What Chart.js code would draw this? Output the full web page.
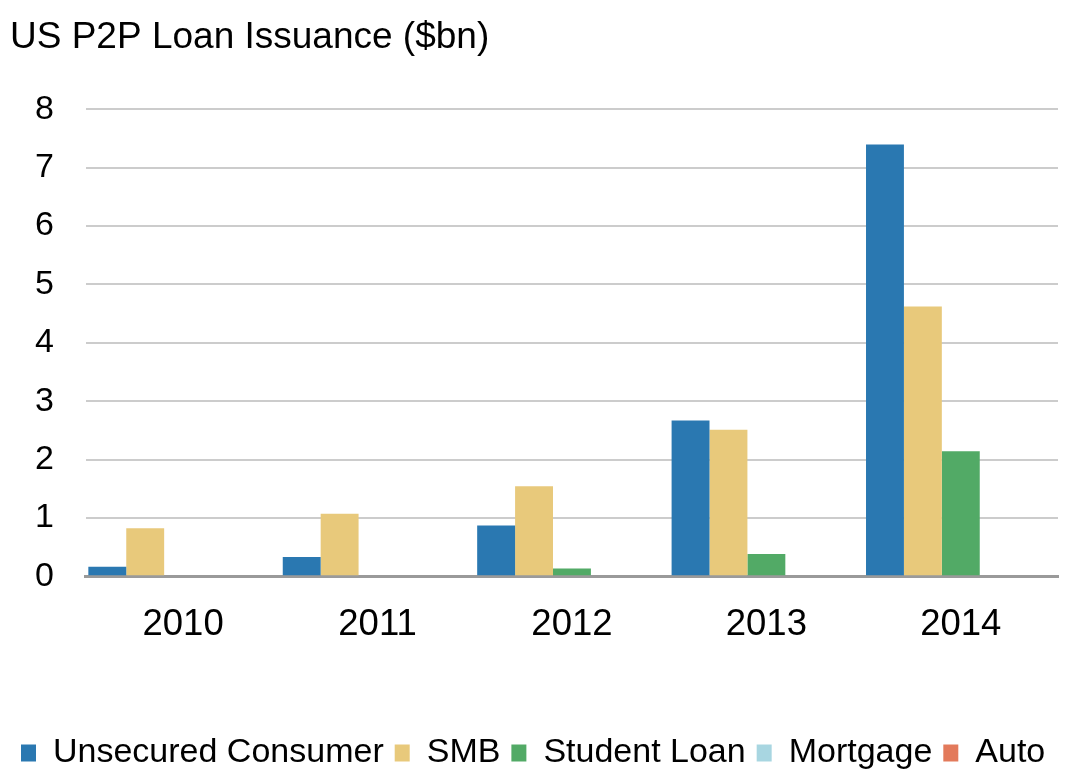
<!DOCTYPE html>
<html>
<head>
<meta charset="utf-8">
<script src="https://cdn.jsdelivr.net/npm/chart.js@4"></script>
<style>
  html, body { margin: 0; padding: 0; background: #fff; }
  #wrap { width: 1069px; height: 771px; position: relative; }
</style>
</head>
<body>
<div id="wrap"><canvas id="chart"></canvas></div>
<script>
const years = ["2010", "2011", "2012", "2013", "2014"];
const unsecuredConsumer = [0.16, 0.33, 0.87, 2.67, 7.40];
const smb = [0.82, 1.07, 1.54, 2.51, 4.62];
const studentLoan = [0, 0, 0.13, 0.38, 2.14];
const mortgage = [0, 0, 0, 0, 0];
const auto = [0, 0, 0, 0, 0];
const yTicks = [0, 1, 2, 3, 4, 5, 6, 7, 8];

const font = "'Liberation Sans', Arial, Helvetica, sans-serif";

function series(label, data, color) {
  return {
    label,
    data,
    backgroundColor: color,
    borderWidth: 0,
    barPercentage: 1,
    categoryPercentage: 0.975,
  };
}

new Chart(document.getElementById("chart"), {
  type: "bar",
  data: {
    labels: years,
    datasets: [
      series("Unsecured Consumer", unsecuredConsumer, "#2a78b1"),
      series("SMB", smb, "#e8c97b"),
      series("Student Loan", studentLoan, "#52aa66"),
      series("Mortgage", mortgage, "#a8d6e1"),
      series("Auto", auto, "#e37a5b"),
    ],
  },
  options: {
    responsive: true,
    maintainAspectRatio: false,
    animation: false,
    // legend sits lower than the default padding allows
    layout: { padding: { left: 10, right: 11, top: 2, bottom: -9 } },
    plugins: {
      title: {
        display: true,
        text: "US P2P Loan Issuance ($bn)",
        align: "start",
        color: "#000",
        font: { family: font, size: 37, weight: "normal" },
        padding: { top: 14, bottom: 49 },
      },
      legend: {
        position: "bottom",
        align: "start",
        labels: {
          color: "#000",
          font: { family: font, size: 34 },
          boxWidth: 15,
          boxHeight: 17,
          padding: 11,
        },
      },
      tooltip: { enabled: false },
    },
    scales: {
      x: {
        grid: { display: false, drawTicks: false },
        border: { display: true, color: "#9a9a9a", width: 3 },
        ticks: { color: "#000", font: { family: font, size: 36.5 }, padding: 27 },
        afterFit: (s) => { s.height += 51; },
      },
      y: {
        min: 0,
        max: 8,
        afterBuildTicks: (s) => { s.ticks = yTicks.map((v) => ({ value: v })); },
        afterFit: (s) => { s.width -= 7; },
        grid: {
          color: "#cccccc",
          lineWidth: 2,
          drawTicks: false,
        },
        border: { display: false },
        ticks: {
          color: "#000",
          font: { family: font, size: 34 },
          padding: 32,
        },
      },
    },
  },
});
</script>
</body>
</html>
